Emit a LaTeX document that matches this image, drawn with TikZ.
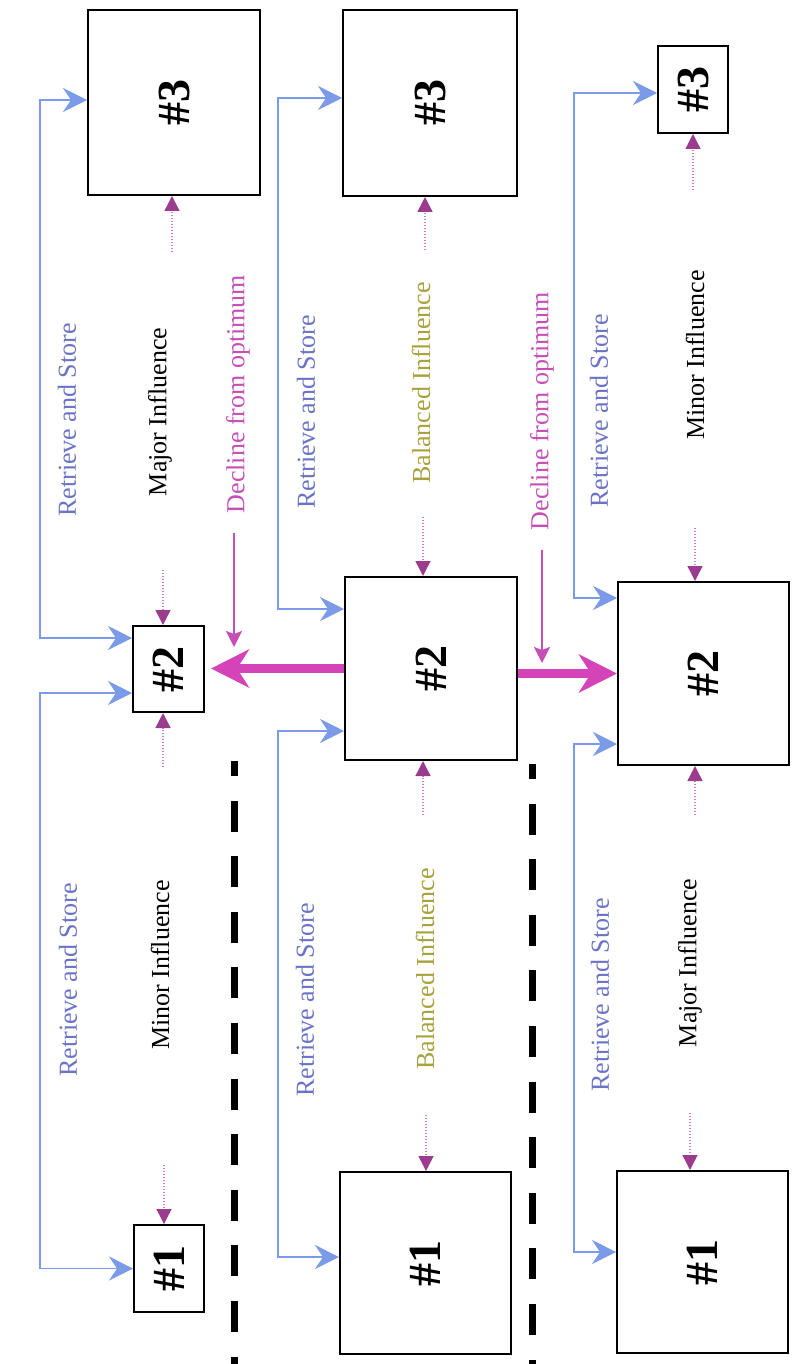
\documentclass[tikz,border=0pt]{standalone}
\usepackage{fontspec}
\usepackage{graphicx}
\setmainfont{Liberation Serif}
\usetikzlibrary{arrows.meta}
\definecolor{rsblue}{HTML}{6B73C6}
\definecolor{lineblue}{HTML}{7B9BE8}
\definecolor{declmag}{HTML}{C64FB6}
\definecolor{balol}{HTML}{A8A23E}
\definecolor{dotpink}{HTML}{D27FC2}
\definecolor{tipmag}{HTML}{9C3C8E}
\definecolor{thickmag}{HTML}{D444B8}
\begin{document}
\begin{tikzpicture}[x=1pt,y=-1pt,
  box/.style={draw=black, line width=2pt, fill=white, inner sep=0pt,
    font=\fontsize{46}{46}\selectfont\bfseries},
  lbl/.style={rotate=90, inner sep=0pt, font=\fontsize{26}{26}\selectfont},
  rs/.style={lbl, text=rsblue},
  infltxt/.style={lbl, text=black},
  baltxt/.style={lbl, text=balol},
  decltxt/.style={lbl, text=declmag},
  bconn/.style={draw=lineblue, line width=1.3pt,
    {Stealth[length=24pt,width=24pt,inset=8pt]}-{Stealth[length=24pt,width=24pt,inset=8pt]}},
  infl/.style={draw=dotpink, line width=1.4pt, dash pattern=on 1.4pt off 1.6pt,
    -{Triangle[length=15pt,width=15pt,color=tipmag]}},
  declarr/.style={draw=declmag, line width=2pt,
    -{Stealth[length=16pt,width=16pt,inset=3pt]}},
  thickarr/.style={draw=thickmag, line width=8.5pt,
    -{Stealth[length=38pt,width=38pt,inset=12pt]}},
  sepline/.style={draw=black, line width=7pt, dash pattern=on 31pt off 24.6pt, dash phase=16pt}
]
\useasboundingbox (0,0) rectangle (801,1364);

% separators
\draw[sepline] (234,761) -- (234,1372);
\draw[sepline] (532,764) -- (532,1372);

% boxes column 1
\node[box, minimum width=172pt, minimum height=185pt] (c1b3) at (174,102.5) {\rotatebox{90}{\#3}};
\node[box, minimum width=71pt, minimum height=86pt] (c1b2) at (168.5,669) {\rotatebox{90}{\#2}};
\node[box, minimum width=70pt, minimum height=87pt] (c1b1) at (169,1268.5) {\rotatebox{90}{\#1}};
% boxes column 2
\node[box, minimum width=174pt, minimum height=186pt] (c2b3) at (430,103) {\rotatebox{90}{\#3}};
\node[box, minimum width=172pt, minimum height=183pt] (c2b2) at (431,668.5) {\rotatebox{90}{\#2}};
\node[box, minimum width=171pt, minimum height=182pt] (c2b1) at (425.5,1263) {\rotatebox{90}{\#1}};
% boxes column 3
\node[box, minimum width=70pt, minimum height=87pt] (c3b3) at (693,89.5) {\rotatebox{90}{\#3}};
\node[box, minimum width=171pt, minimum height=183pt] (c3b2) at (703.5,673.5) {\rotatebox{90}{\#2}};
\node[box, minimum width=171pt, minimum height=182pt] (c3b1) at (702.5,1262) {\rotatebox{90}{\#1}};

% labels
\node[rs] (c1rsa) at (67,420) {Retrieve and Store};
\node[rs] (c1rsb) at (68,980) {Retrieve and Store};
\node[infltxt] (c1ma) at (160,412) {Major Influence};
\node[infltxt] (c1mi) at (160,965) {Minor Influence};
\node[decltxt] (c1de) at (238,394) {Decline from optimum};

\node[rs] (c2rsa) at (306,412) {Retrieve and Store};
\node[rs] (c2rsb) at (305,1000) {Retrieve and Store};
\node[baltxt] (c2ba) at (421,383) {Balanced Influence};
\node[baltxt] (c2bb) at (425,969) {Balanced Influence};
\node[decltxt] (c2de) at (542,411) {Decline from optimum};

\node[rs] (c3rsa) at (599,411) {Retrieve and Store};
\node[rs] (c3rsb) at (600,995) {Retrieve and Store};
\node[infltxt] (c3mi) at (695,355) {Minor Influence};
\node[infltxt] (c3ma) at (690,963) {Major Influence};

% retrieve and store connectors
\draw[bconn] ([yshift=2.5pt]c1b3.west) -- (40,100) -- (40,638) -- ([yshift=31pt]c1b2.west);
\draw[bconn] ([yshift=-24pt]c1b2.west) -- (40,693) -- (40,1268.5) -- (c1b1.west);
\draw[bconn] ([yshift=5pt]c2b3.west) -- (278,98) -- (278,609) -- ([yshift=59.5pt]c2b2.west);
\draw[bconn] ([yshift=-62.5pt]c2b2.west) -- (278,731) -- (278,1257) -- ([yshift=6pt]c2b1.west);
\draw[bconn] ([yshift=-3.5pt]c3b3.west) -- (574,93) -- (574,598) -- ([yshift=75.5pt]c3b2.west);
\draw[bconn] ([yshift=-70.5pt]c3b2.west) -- (574,744) -- (574,1252) -- ([yshift=10pt]c3b1.west);

% influence dotted arrows
\coordinate (i1) at (172,252);
\coordinate (i2) at (163,570);
\coordinate (i3) at (163,767);
\coordinate (i4) at (164,1165);
\coordinate (i5) at (425,250);
\coordinate (i6) at (423,517);
\coordinate (i7) at (423,815);
\coordinate (i8) at (426,1115);
\coordinate (i9) at (693,190);
\coordinate (i10) at (695,528);
\coordinate (i11) at (695,815);
\coordinate (i12) at (690,1113);
\draw[infl] (i1) -- ([xshift=-2pt]c1b3.south);
\draw[infl] (i2) -- ([xshift=-5.5pt]c1b2.north);
\draw[infl] (i3) -- ([xshift=-5.5pt]c1b2.south);
\draw[infl] (i4) -- ([xshift=-5pt]c1b1.north);
\draw[infl] (i5) -- ([xshift=-5pt]c2b3.south);
\draw[infl] (i6) -- ([xshift=-8pt]c2b2.north);
\draw[infl] (i7) -- ([xshift=-8pt]c2b2.south);
\draw[infl] (i8) -- ([xshift=0.5pt]c2b1.north);
\draw[infl] (i9) -- (c3b3.south);
\draw[infl] (i10) -- ([xshift=-8.5pt]c3b2.north);
\draw[infl] (i11) -- ([xshift=-8.5pt]c3b2.south);
\draw[infl] (i12) -- ([xshift=-12.5pt]c3b1.north);

% decline arrows
\coordinate (d1a) at (234,533);
\coordinate (d1b) at (234,647);
\coordinate (d2a) at (542,550);
\coordinate (d2b) at (542,663);
\draw[declarr] (d1a) -- (d1b);
\draw[declarr] (d2a) -- (d2b);

% thick transition arrows
\draw[thickarr, shorten >=6pt] (c2b2.west) -- (c2b2.west -| c1b2.east);
\draw[thickarr] (c2b2.east |- c3b2.west) -- (c3b2.west);
\end{tikzpicture}
\end{document}
